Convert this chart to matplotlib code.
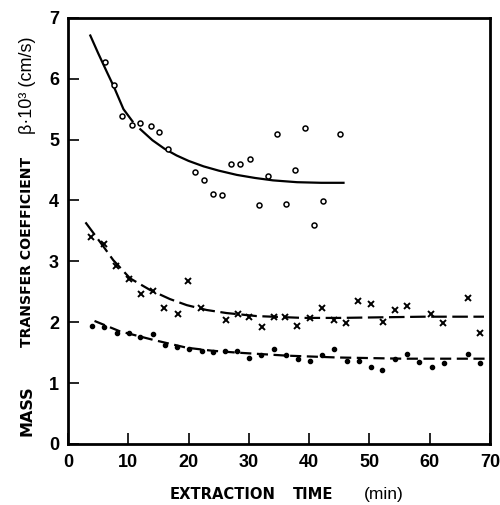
import matplotlib.pyplot as plt

plt.rcParams['font.family'] = ['Liberation Sans', 'DejaVu Sans']

# open circles (upper series)
circle_t = [6.1, 7.6, 9.0, 10.6, 12.0, 13.7, 15.1, 16.6, 21.1, 22.6, 24.0, 25.5,
            27.1, 28.5, 30.2, 31.6, 33.1, 34.7, 36.2, 37.6, 39.3, 40.8, 42.3, 45.2]
circle_y = [6.27, 5.90, 5.39, 5.24, 5.27, 5.23, 5.12, 4.84, 4.47, 4.34, 4.11, 4.09,
            4.60, 4.60, 4.68, 3.93, 4.40, 5.09, 3.94, 4.50, 5.19, 3.59, 3.99, 5.09]
circle_fit_t = [3.7, 5.0, 6.5, 7.6, 9.2, 10.7,
                12.0, 14.0, 16.0, 18.0, 20.0, 22.5, 25.0, 28.0, 31.0, 34.0, 38.0, 42.0, 45.7]
circle_fit_y = [6.71, 6.42, 6.10, 5.87, 5.50, 5.30,
                5.17, 4.99, 4.85, 4.74, 4.65, 4.56, 4.49, 4.42, 4.37, 4.33, 4.30, 4.29, 4.29]

# crosses (middle series)
cross_t = [3.8, 6.0, 7.9, 10.2, 12.1, 14.1, 15.9, 18.2, 19.9, 22.0, 26.2, 28.2, 30.1,
           32.1, 34.2, 36.0, 38.0, 40.1, 42.1, 44.1, 46.1, 48.1, 50.2, 52.2, 54.3,
           56.2, 60.2, 62.2, 66.3, 68.4]
cross_y = [3.40, 3.28, 2.93, 2.71, 2.47, 2.51, 2.24, 2.13, 2.67, 2.24, 2.03, 2.14, 2.08,
           1.92, 2.08, 2.09, 1.94, 2.07, 2.23, 2.04, 1.99, 2.35, 2.30, 2.00, 2.20,
           2.27, 2.14, 1.99, 2.40, 1.82]
cross_fit_t = [2.9, 5.9, 7.5, 10.3, 13.6, 16.9, 19.7, 23.0, 26.3, 31.3, 39.0, 45.0, 52.0, 59.0, 69.0]
cross_fit_y = [3.64, 3.24, 3.02, 2.72, 2.53, 2.38, 2.28, 2.20, 2.15, 2.10, 2.07, 2.07, 2.08, 2.09, 2.09]

# filled dots (lower series)
dot_t = [3.9, 6.0, 8.1, 10.2, 11.9, 14.1, 16.1, 18.1, 20.1, 22.3, 24.1, 26.0, 28.1,
         30.0, 32.0, 34.1, 36.1, 38.2, 40.2, 42.2, 44.1, 46.2, 48.3, 50.2, 52.1,
         54.2, 56.2, 58.3, 60.4, 62.4, 66.4, 68.3]
dot_y = [1.94, 1.92, 1.82, 1.82, 1.76, 1.81, 1.62, 1.60, 1.56, 1.52, 1.51, 1.53, 1.52,
         1.41, 1.46, 1.56, 1.46, 1.40, 1.36, 1.46, 1.56, 1.36, 1.37, 1.27, 1.22,
         1.40, 1.48, 1.35, 1.27, 1.33, 1.48, 1.33]
dot_fit_t = [4.4, 8.6, 14.1, 19.7, 24.0, 28.0, 36.3, 44.6, 55.6, 70.0]
dot_fit_y = [2.02, 1.85, 1.71, 1.58, 1.53, 1.50, 1.45, 1.42, 1.40, 1.40]

x_ticks = [0, 10, 20, 30, 40, 50, 60, 70]
y_ticks = [0, 1, 2, 3, 4, 5, 6, 7]

fig = plt.figure(figsize=(5, 5.05), dpi=100)
ax = fig.add_axes([0.136, 0.121, 0.844, 0.8436])

# fitted curves (the upper one has a small break near t = 11)
ax.plot(circle_fit_t[:6], circle_fit_y[:6], color='black', lw=1.6)
ax.plot(circle_fit_t[6:], circle_fit_y[6:], color='black', lw=1.6)
ax.plot(cross_fit_t, cross_fit_y, color='black', lw=1.6, dashes=(7, 2.5))
ax.plot(dot_fit_t, dot_fit_y, color='black', lw=1.6, dashes=(5, 2.5))

# measured points
ax.plot(circle_t, circle_y, 'o', mfc='white', mec='black', ms=3.6, mew=1.1, ls='none')
ax.plot(cross_t, cross_y, 'x', color='black', ms=4.0, mew=1.4, ls='none')
ax.plot(dot_t, dot_y, 'o', color='black', ms=3.0, ls='none')

ax.set_xlim(0, 70)
ax.set_ylim(0, 7)
ax.set_xticks(x_ticks)
ax.set_yticks(y_ticks)
ax.tick_params(direction='in', length=8, width=1.2, labelsize=13)
ax.tick_params(axis='x', pad=7.5)
ax.tick_params(axis='y', pad=6.5)
for lbl in ax.get_xticklabels() + ax.get_yticklabels():
    lbl.set_fontweight('bold')
for sp in ax.spines.values():
    sp.set_linewidth(2)

# axis titles: bold words plus lighter units, placed word by word
bold_font = ['DejaVu Sans']
fig.text(0.054, 0.187, 'MASS', rotation=90, ha='center', va='center',
         fontsize=11.5, fontweight='bold', family=bold_font)
fig.text(0.054, 0.313, 'TRANSFER COEFFICIENT', rotation=90, ha='center', va='bottom',
         fontsize=10.1, fontweight='bold', family=bold_font)
fig.text(0.054, 0.735, 'β·10³ (cm/s)', rotation=90,
         ha='center', va='bottom', fontsize=13)
fig.text(0.34, 0.02, 'EXTRACTION', ha='left', va='center',
         fontsize=10.6, fontweight='bold', family=bold_font)
fig.text(0.586, 0.02, 'TIME', ha='left', va='center',
         fontsize=10.6, fontweight='bold', family=bold_font)
fig.text(0.728, 0.02, '(min)', ha='left', va='center', fontsize=12.5)

fig.savefig('out.png', dpi=100)
